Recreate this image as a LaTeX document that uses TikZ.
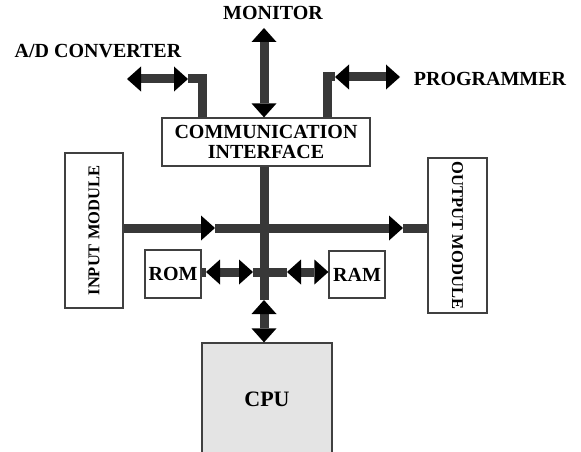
\documentclass[tikz,border=0pt]{standalone}
\usepackage{fontspec}
\setmainfont{Liberation Serif}
\usetikzlibrary{arrows.meta,calc}
\definecolor{busgray}{HTML}{383838}
\definecolor{cpugray}{HTML}{E4E4E4}

\begin{document}
\begin{tikzpicture}[x=1pt,y=-1pt,
    >={Triangle[width=25pt,length=14pt,line width=0pt,color=black]},
    blk/.style={draw=black!75, line width=1.2pt, fill=white, inner sep=0pt,
      font=\fontsize{20}{20}\selectfont\bfseries},
    module/.style={blk, minimum width=155pt, font=\fontsize{16.5}{18}\selectfont\bfseries},
    bus/.style={draw=busgray, line width=9pt, line join=miter},
    lbl/.style={inner sep=0pt, font=\fontsize{20}{22}\selectfont\bfseries}]
  \useasboundingbox (0,0) rectangle (581,452);

  \node[blk, minimum width=208pt, minimum height=48pt, align=center] (comm) at (266,142) {COMMUNICATION\\INTERFACE};
  \node[module, minimum height=58pt, rotate=90] (input) at (94,230.5) {INPUT MODULE};
  \node[module, minimum height=59pt, rotate=-90] (output) at (457.5,235.5) {OUTPUT MODULE};
  \node[blk, minimum width=56pt, minimum height=48pt] (rom) at (173,274) {ROM};
  \node[blk, minimum width=56pt, minimum height=47pt] (ram) at (357,274.5) {RAM};
  \node[blk, fill=cpugray, minimum width=130pt, minimum height=112pt,
    font=\fontsize{22}{22}\selectfont\bfseries] (cpu) at (267,399) {CPU};

  \node[lbl] (monitor) at (273,13) {MONITOR};
  \node[lbl] (adconv) at (98,51) {A/D CONVERTER};
  \node[lbl] (prog) at (490,79) {PROGRAMMER};

  \coordinate (hub) at (264,228);
  \coordinate (montip) at (264,28);
  \coordinate (adtip) at (127,79);
  \coordinate (adhead) at (188,79);
  \coordinate (adcorner) at (202,79);
  \coordinate (pgcorner) at (327,77);
  \coordinate (pghead) at (335,77);
  \coordinate (pgtip) at (400,77);
  \coordinate (inhead) at (215,228);
  \coordinate (outhead) at (403,228);
  \coordinate (romL) at (206,272);
  \coordinate (romR) at (253,272);
  \coordinate (ramL) at (287,272);
  \coordinate (cpuup) at (264,300);

  % communication side
  \draw[bus,<->] (comm.north -| montip) -- (montip);
  \draw[bus] (comm.north -| adcorner) -- (adcorner) -- (adhead);
  \draw[bus,<->] (adtip) -- (adhead);
  \draw[bus] (comm.north -| pgcorner) -- (pgcorner) -- (pghead);
  \draw[bus,<->] (pghead) -- (pgtip);

  % main bus
  \draw[bus] (comm.south -| hub) -- (cpuup);
  \draw[bus,<->] (cpuup) -- (cpu.north -| hub);
  \draw[bus,->] (input.south |- hub) -- (inhead);
  \draw[bus,->] (inhead) -- (outhead);
  \draw[bus] (outhead) -- (output.south |- hub);
  \draw[bus] (rom.east |- romL) -- (romL);
  \draw[bus,<->] (romL) -- (romR);
  \draw[bus] (romR) -- (romR -| hub);
  \draw[bus] (ramL -| hub) -- (ramL);
  \draw[bus,<->] (ramL) -- (ram.west |- ramL);
\end{tikzpicture}
\end{document}
